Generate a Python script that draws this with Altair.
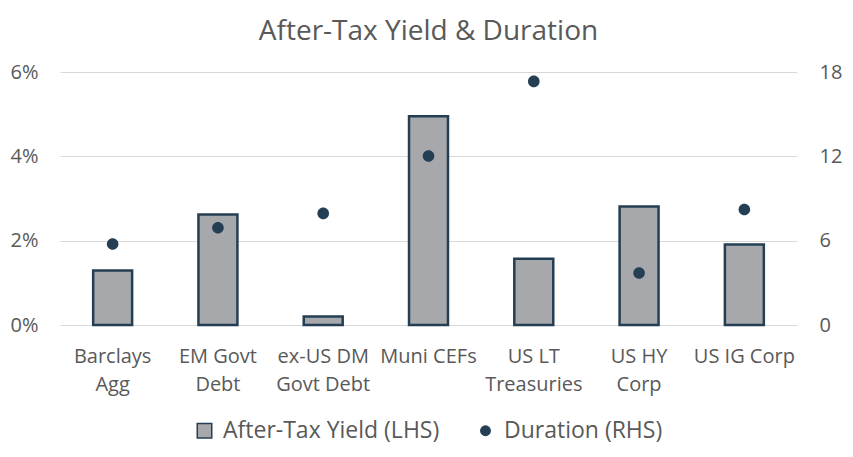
import altair as alt
import pandas as pd

categories = ["Barclays\nAgg", "EM Govt\nDebt", "ex-US DM\nGovt Debt", "Muni CEFs",
              "US LT\nTreasuries", "US HY\nCorp", "US IG Corp"]
after_tax_yield = [0.0129, 0.0262, 0.0020, 0.0495, 0.0157, 0.0281, 0.0191]
duration = [5.76, 6.92, 7.94, 12.02, 17.33, 3.70, 8.22]
series_names = ["After-Tax Yield (LHS)", "Duration (RHS)"]
left_ticks = [0, 0.02, 0.04, 0.06]
right_ticks = [0, 6, 12, 18]

df_bar = pd.DataFrame({"cat": categories, "value": after_tax_yield, "series": series_names[0]})
df_pt = pd.DataFrame({"cat": categories, "value": duration, "series": series_names[1]})

FONT = "Open Sans"
TXT = "#595959"
NAVY = "#243f54"
GREY = "#a7a8ab"

xenc = alt.X("cat:N", sort=categories, title=None,
             scale=alt.Scale(paddingInner=0.63, paddingOuter=0.315),
             axis=alt.Axis(labelExpr="split(datum.label, '\\n')", labelAngle=0,
                           labelFontSize=20, labelColor=TXT, labelFont=FONT,
                           labelLineHeight=28, labelPadding=31, ticks=False,
                           domain=False, labelBaseline="middle", labelLimit=0))

fill_scale = alt.Scale(domain=series_names, range=[GREY, NAVY])
circle_path = "M0.65,0A0.65,0.65 0 1,1 -0.65,0A0.65,0.65 0 1,1 0.65,0Z"
square_path = "M-1,-1H1V1H-1Z"
shape_scale = alt.Scale(domain=series_names, range=[square_path, circle_path])

legend = alt.Legend(title=None, orient="none", direction="horizontal",
                    legendX=133, legendY=347, labelFontSize=23, labelColor=TXT,
                    labelFont=FONT, symbolSize=210, symbolStrokeColor=NAVY,
                    symbolStrokeWidth=1.5, columnPadding=34, labelOffset=7,
                    labelLimit=0)

bars = alt.Chart(df_bar).mark_bar(stroke=NAVY, strokeWidth=2.5).encode(
    x=xenc,
    y=alt.Y("value:Q", title=None,
            scale=alt.Scale(domain=[0, 0.06], nice=False),
            axis=alt.Axis(values=left_ticks, format=".0%", labelFontSize=20,
                          labelColor=TXT, labelFont=FONT, ticks=False, domain=False,
                          labelPadding=22, gridColor="#d9d9d9", gridWidth=1.2)),
    fill=alt.Fill("series:N", scale=fill_scale, legend=legend),
)

points = alt.Chart(df_pt).mark_point(filled=True, opacity=1, size=318, fill=NAVY, stroke=NAVY, strokeWidth=0).encode(
    x=xenc,
    y=alt.Y("value:Q", title=None,
            scale=alt.Scale(domain=[0, 18], nice=False),
            axis=alt.Axis(values=right_ticks, orient="right", labelFontSize=20,
                          labelColor=TXT, labelFont=FONT, ticks=False, domain=False,
                          labelPadding=22, grid=False)),
    fill=alt.Fill("series:N", scale=fill_scale, legend=legend),
    shape=alt.Shape("series:N", scale=shape_scale, legend=legend),
)

chart = alt.layer(bars, points).resolve_scale(y="independent").properties(
    width=737, height=253,
    autosize=alt.AutoSizeParams(type="none"),
    padding={"left": 52, "top": 64, "right": 48, "bottom": 124},
    title=alt.TitleParams("After-Tax Yield & Duration", fontSize=28, color=TXT,
                          font=FONT, fontWeight="normal", offset=16, anchor="middle"),
).configure(background="white").configure_view(stroke=None)

chart.save("out.html", embed_options={"renderer": "svg", "actions": False})
